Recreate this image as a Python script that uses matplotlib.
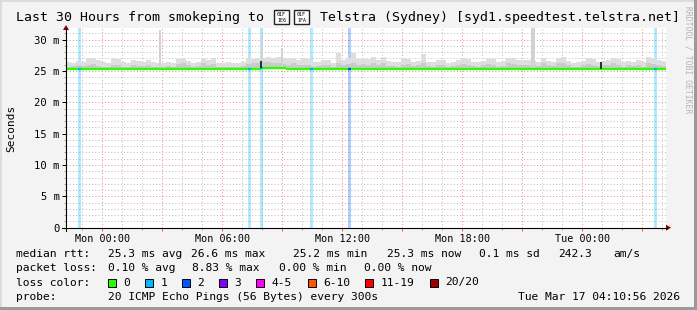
import numpy as np
import matplotlib
matplotlib.use("Agg")
import matplotlib.pyplot as plt
from matplotlib.patches import Rectangle, Polygon
from matplotlib.lines import Line2D

plt.rcParams['font.family'] = ['DejaVu Sans Mono']

W, H = 697, 310

# time axis: hours relative to Mon 00:00, 15 minute slots over the last 30 hours
start_h = -1.818
step_h = 0.25

# smoke (ms): upper edge of the light smoke and of the darker inner smoke, per slot
smoke_hi = [
    26.4, 26.3, 26.6, 26.5, 27.1, 27.0, 26.8, 26.5, 26.3, 27.0, 26.9, 26.4, 26.2, 26.7, 26.6, 26.5, 26.7, 26.4, 26.3, 26.2,
    26.4, 26.3, 26.9, 27.0, 26.6, 26.3, 26.5, 27.1, 26.8, 27.0, 26.3, 26.2, 26.4, 26.3, 26.2, 26.4, 27.0, 26.9, 27.0, 27.1,
    27.2, 27.0, 27.2, 27.1, 27.0, 27.1, 26.8, 27.0, 26.9, 26.4, 26.5, 26.8, 26.7, 26.3, 27.9, 26.8, 27.0, 27.8, 26.9, 27.0,
    26.9, 27.3, 26.7, 27.3, 26.6, 26.5, 26.4, 27.0, 26.9, 26.5, 26.6, 27.7, 26.5, 26.4, 26.8, 26.7, 26.3, 26.5, 26.8, 27.0,
    26.9, 26.5, 26.4, 26.6, 27.0, 26.9, 26.4, 26.6, 27.1, 27.0, 26.8, 26.7, 26.8, 26.6, 26.5, 27.1, 26.6, 26.5, 27.1, 27.2,
    26.6, 26.3, 26.4, 26.6, 27.0, 26.9, 26.5, 26.6, 26.7, 27.0, 26.9, 26.4, 26.6, 26.5, 26.8, 26.4, 27.2, 27.1, 26.7, 26.6,
]
smoke_mid = [
    25.7, 25.8, 25.9, 25.8, 26.0, 26.1, 25.8, 25.7, 25.7, 26.0, 25.9, 25.7, 25.6, 25.9, 25.8, 25.8, 26.0, 25.7, 25.7, 25.6,
    25.8, 25.7, 26.1, 26.2, 25.9, 25.7, 25.8, 26.2, 26.0, 26.1, 25.7, 25.6, 25.7, 25.7, 25.6, 25.8, 26.1, 26.2, 26.3, 26.4,
    26.4, 26.2, 26.3, 26.1, 26.0, 26.2, 25.9, 26.0, 26.0, 25.7, 25.8, 26.0, 25.9, 25.7, 26.2, 25.9, 26.1, 26.3, 26.0, 26.1,
    26.0, 26.2, 25.9, 26.3, 25.8, 25.8, 25.7, 26.0, 26.1, 25.8, 25.9, 26.2, 25.8, 25.7, 26.0, 25.9, 25.7, 25.8, 26.0, 26.1,
    26.0, 25.8, 25.7, 25.9, 26.1, 26.0, 25.7, 25.8, 26.2, 26.1, 25.9, 25.9, 26.0, 25.9, 25.8, 26.2, 25.9, 25.8, 26.3, 26.2,
    25.9, 25.7, 25.7, 25.9, 26.1, 26.0, 25.8, 25.9, 25.9, 26.2, 26.0, 25.7, 25.9, 25.8, 26.0, 25.7, 26.2, 26.1, 25.9, 25.8,
]
median = [
    25.3, 25.3, 25.3, 25.3, 25.3, 25.3, 25.3, 25.3, 25.3, 25.3, 25.3, 25.3, 25.3, 25.3, 25.3, 25.3, 25.3, 25.3, 25.3, 25.3,
    25.3, 25.3, 25.3, 25.3, 25.3, 25.3, 25.3, 25.3, 25.3, 25.3, 25.3, 25.3, 25.3, 25.3, 25.3, 25.3, 25.3, 25.3, 25.3, 25.5,
    25.5, 25.5, 25.5, 25.5, 25.3, 25.3, 25.3, 25.3, 25.3, 25.3, 25.3, 25.3, 25.3, 25.3, 25.3, 25.3, 25.3, 25.3, 25.3, 25.3,
    25.3, 25.3, 25.3, 25.3, 25.3, 25.3, 25.3, 25.3, 25.3, 25.3, 25.3, 25.3, 25.3, 25.3, 25.3, 25.3, 25.3, 25.3, 25.3, 25.3,
    25.3, 25.3, 25.3, 25.3, 25.3, 25.3, 25.3, 25.3, 25.3, 25.3, 25.3, 25.3, 25.3, 25.3, 25.3, 25.3, 25.3, 25.3, 25.3, 25.3,
    25.3, 25.3, 25.3, 25.3, 25.3, 25.3, 25.3, 25.3, 25.3, 25.3, 25.3, 25.3, 25.3, 25.3, 25.3, 25.3, 25.3, 25.3, 25.3, 25.3,
]

# single tall smoke spikes
spike_hours = [2.9, 8.0, 9.0, 21.5, 21.6]
spike_top = [31.5, 30.7, 28.7, 31.85, 31.85]

# median jumps drawn dark
jump_hours = [7.95, 24.95]
jump_top = [26.6, 26.4]

# packet loss events (lost pings out of 20)
loss_hours = [-1.15, 7.35, 7.95, 10.45, 12.35, 27.68]
loss_pings = [1, 1, 1, 1, 2, 1]

loss_labels = ['0', '1', '2', '3', '4-5', '6-10', '11-19', '20/20']
loss_colors = ['#26ff00', '#00b8ff', '#0059ff', '#7e00ff', '#ff00ff', '#ff5500', '#ff0000', '#a10000']

xtick_hours = [0, 6, 12, 18, 24]
xtick_labels = ['Mon 00:00', 'Mon 06:00', 'Mon 12:00', 'Mon 18:00', 'Tue 00:00']
ytick_ms = [0, 5, 10, 15, 20, 25, 30]
ytick_labels = ['0', '5 m', '10 m', '15 m', '20 m', '25 m', '30 m']

# title; the flag (regional indicators U+1F1E6 U+1F1FA) shows as hex boxes, no font has it
title_left = 'Last 30 Hours from smokeping to'
title_flag_hex = [('01F', '1E6'), ('01F', '1FA')]
title_right = 'Telstra (Sydney) [syd1.speedtest.telstra.net]'


def fx(px):
    return px / W


def fy(py):
    return 1 - py / H


def loss_color(n):
    bins = [0, 1, 2, 3, 5, 10, 19, 20]
    for b, c in zip(bins, loss_colors):
        if n <= b:
            return c
    return loss_colors[-1]


fig = plt.figure(figsize=(W / 100, H / 100), dpi=100, facecolor='#f3f3f3')

# plot area
x0, x1, y0, y1 = 66, 666, 227.7, 28
ax = fig.add_axes([fx(x0), fy(y0), (x1 - x0) / W, (y0 - y1) / H])
ax.set_facecolor('white')
ymax = 31.85
ax.set_xlim(start_h, start_h + 30)
ax.set_ylim(0, ymax)
for s in ax.spines.values():
    s.set_visible(False)

# grid
ax.set_xticks(np.arange(0, 28.5, 3))
ax.set_xticks(np.arange(-1, 29, 1), minor=True)
ax.set_yticks(ytick_ms)
ax.set_yticks(np.arange(1, 32, 1), minor=True)
ax.grid(which='minor', color='#bdbdbd', ls=(0, (1, 2.2)), lw=0.72)
ax.grid(which='major', color='#ec8a8a', ls=(0, (1, 2.2)), lw=0.72)
ax.set_axisbelow(True)

ax.set_xticklabels([xtick_labels[xtick_hours.index(h)] if h in xtick_hours else ''
                    for h in np.arange(0, 28.5, 3)])
ax.set_yticklabels(ytick_labels)
ax.tick_params(axis='x', which='major', length=2.2, width=0.72, color='#e06060',
               labelsize=7.3, pad=2.5)
ax.tick_params(axis='x', which='minor', length=1.5, width=0.72, color='#a0a0a0')
ax.tick_params(axis='y', which='major', length=2.9, width=0.72, color='black',
               labelsize=7.6, pad=1.5)
ax.tick_params(axis='y', which='minor', length=1.5, width=0.72, color='#a0a0a0')

# loss background bars
for t, n in zip(loss_hours, loss_pings):
    ax.bar(t, ymax, width=0.15, bottom=0, color=loss_color(n), alpha=0.3, lw=0, zorder=1)

# smoke
lefts = start_h + step_h * np.arange(len(smoke_hi))
hi = np.array(smoke_hi)
mid = np.array(smoke_mid)
med = np.array(median)
ax.bar(lefts, hi - (med - 0.1), bottom=med - 0.1, width=step_h, align='edge',
       color='#dedede', lw=0, zorder=2)
ax.bar(lefts, mid - (med - 0.1), bottom=med - 0.1, width=step_h, align='edge',
       color='#cacaca', lw=0, zorder=2)
spike_base = [med[int((t - start_h) // step_h)] for t in spike_hours]
ax.bar(spike_hours, np.array(spike_top) - np.array(spike_base), bottom=spike_base,
       width=0.1, color='#d2d2d2', lw=0, zorder=2)

# median line
ax.hlines(med, lefts, lefts + step_h, colors=loss_colors[0], lw=1.7, zorder=4)
for t, n in zip(loss_hours, loss_pings):
    m = med[int((t - start_h) // step_h)]
    ax.hlines(m, t - 0.075, t + 0.075, colors=loss_color(n), lw=1.7, zorder=5)
jump_base = [med[int((t - start_h) // step_h)] for t in jump_hours]
ax.vlines(jump_hours, jump_base, jump_top, colors='#202020', lw=1.3, zorder=5)

# axis lines with arrows
fig.add_artist(Line2D([fx(62), fx(667)], [fy(y0), fy(y0)], color='black', lw=0.8))
fig.add_artist(Line2D([fx(x0), fx(x0)], [fy(231), fy(29)], color='black', lw=0.8))
fig.add_artist(Polygon([[fx(666), fy(y0 - 3)], [fx(671), fy(y0)], [fx(666), fy(y0 + 3)]],
                       closed=True, color='#8b0000', lw=0))
fig.add_artist(Polygon([[fx(x0 - 3), fy(30)], [fx(x0), fy(25)], [fx(x0 + 3), fy(30)]],
                       closed=True, color='#8b0000', lw=0))

# frame shading
fig.add_artist(Rectangle((0, fy(2)), 1, 2 / H, color='#dcdcdc', lw=0))
fig.add_artist(Rectangle((0, 0), 2 / W, 1, color='#dcdcdc', lw=0))
fig.add_artist(Rectangle((0, 0), 1, 3 / H, color='#9a9a9a', lw=0))
fig.add_artist(Rectangle((fx(W - 3), 0), 3 / W, 1, color='#9a9a9a', lw=0))

# title
fig.text(fx(16), fy(17), title_left, ha='left', va='center', fontsize=9.5)
for bx, (r1, r2) in zip([274, 294], title_flag_hex):
    fig.add_artist(Rectangle((fx(bx), fy(24)), 15 / W, 14 / H, facecolor='white',
                             edgecolor='#222222', lw=1.0))
    fig.text(fx(bx + 7.5), fy(14), r1, ha='center', va='center', fontsize=3.6)
    fig.text(fx(bx + 7.5), fy(20), r2, ha='center', va='center', fontsize=3.6)
fig.text(fx(320), fy(17), title_right, ha='left', va='center', fontsize=9.5)

fig.text(fx(11), fy(128), 'Seconds', rotation=90, ha='center', va='center', fontsize=8)
fig.text(fx(688), fy(60), 'RRDTOOL / TOBI OETIKER', rotation=270, ha='center', va='center',
         fontsize=5.8, color='#b4b4b4')

fs = 8.1
row_y = [254.3, 268.3, 282.5, 297]
fig.text(fx(16.4), fy(row_y[0]), 'median rtt:', va='center', fontsize=fs)
for px, s in zip([107.5, 191, 293, 387, 479, 558, 613],
                 ['25.3 ms avg', '26.6 ms max', '25.2 ms min', '25.3 ms now', '0.1 ms sd',
                  '242.3', 'am/s']):
    fig.text(fx(px), fy(row_y[0]), s, va='center', fontsize=fs)
fig.text(fx(16.4), fy(row_y[1]), 'packet loss:', va='center', fontsize=fs)
for px, s in zip([107.5, 192, 279, 364],
                 ['0.10 % avg', '8.83 % max', '0.00 % min', '0.00 % now']):
    fig.text(fx(px), fy(row_y[1]), s, va='center', fontsize=fs)
fig.text(fx(16.4), fy(row_y[2]), 'loss color:', va='center', fontsize=fs)
box_x = [108, 145, 182, 219, 256, 307.6, 365, 430]
for bx, lab, c in zip(box_x, loss_labels, loss_colors):
    fig.add_artist(Rectangle((fx(bx), fy(row_y[2] + 4)), 8 / W, 8 / H, facecolor=c,
                             edgecolor='black', lw=0.7))
    fig.text(fx(bx + 15.5), fy(row_y[2]), lab, va='center', fontsize=fs)
fig.text(fx(16.4), fy(row_y[3]), 'probe:', va='center', fontsize=fs)
fig.text(fx(107.5), fy(row_y[3]), '20 ICMP Echo Pings (56 Bytes) every 300s', va='center', fontsize=fs)
fig.text(fx(680), fy(row_y[3]), 'Tue Mar 17 04:10:56 2026', va='center', ha='right', fontsize=fs)

fig.savefig('out.png', dpi=100, facecolor=fig.get_facecolor())
